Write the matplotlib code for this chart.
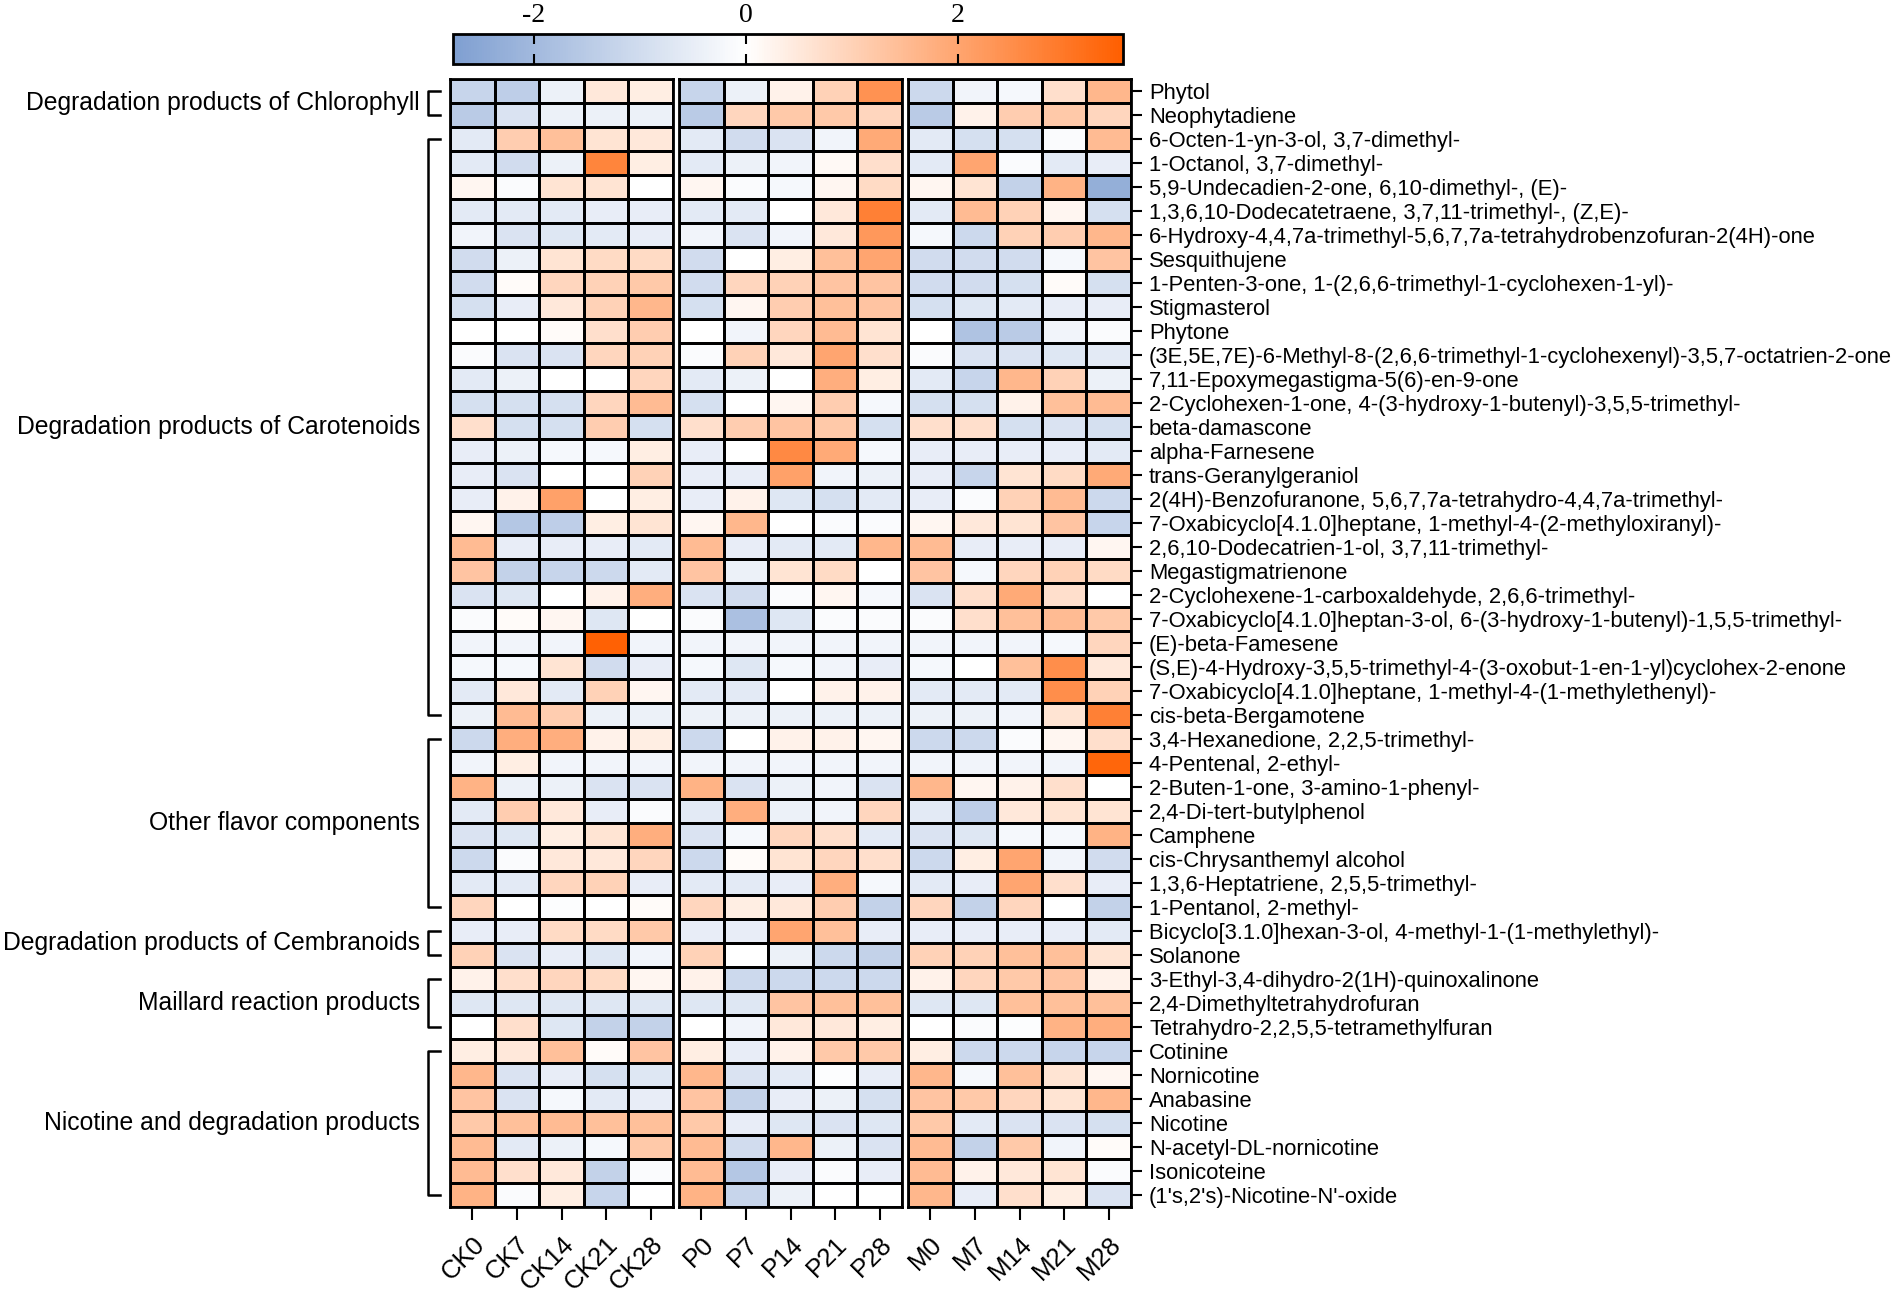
import numpy as np
import matplotlib
matplotlib.use('Agg')
import matplotlib.pyplot as plt
from matplotlib.colors import LinearSegmentedColormap, Normalize
from matplotlib.transforms import blended_transform_factory

plt.rcParams['font.family'] = ['Liberation Sans', 'DejaVu Sans']
plt.rcParams['axes.unicode_minus'] = False

compounds = [
    'Phytol', 'Neophytadiene', '6-Octen-1-yn-3-ol, 3,7-dimethyl-',
    '1-Octanol, 3,7-dimethyl-', '5,9-Undecadien-2-one, 6,10-dimethyl-, (E)-',
    '1,3,6,10-Dodecatetraene, 3,7,11-trimethyl-, (Z,E)-',
    '6-Hydroxy-4,4,7a-trimethyl-5,6,7,7a-tetrahydrobenzofuran-2(4H)-one',
    'Sesquithujene', '1-Penten-3-one, 1-(2,6,6-trimethyl-1-cyclohexen-1-yl)-',
    'Stigmasterol', 'Phytone',
    '(3E,5E,7E)-6-Methyl-8-(2,6,6-trimethyl-1-cyclohexenyl)-3,5,7-octatrien-2-one',
    '7,11-Epoxymegastigma-5(6)-en-9-one',
    '2-Cyclohexen-1-one, 4-(3-hydroxy-1-butenyl)-3,5,5-trimethyl-',
    'beta-damascone', 'alpha-Farnesene', 'trans-Geranylgeraniol',
    '2(4H)-Benzofuranone, 5,6,7,7a-tetrahydro-4,4,7a-trimethyl-',
    '7-Oxabicyclo[4.1.0]heptane, 1-methyl-4-(2-methyloxiranyl)-',
    '2,6,10-Dodecatrien-1-ol, 3,7,11-trimethyl-', 'Megastigmatrienone',
    '2-Cyclohexene-1-carboxaldehyde, 2,6,6-trimethyl-',
    '7-Oxabicyclo[4.1.0]heptan-3-ol, 6-(3-hydroxy-1-butenyl)-1,5,5-trimethyl-',
    '(E)-beta-Famesene',
    '(S,E)-4-Hydroxy-3,5,5-trimethyl-4-(3-oxobut-1-en-1-yl)cyclohex-2-enone',
    '7-Oxabicyclo[4.1.0]heptane, 1-methyl-4-(1-methylethenyl)-',
    'cis-beta-Bergamotene', '3,4-Hexanedione, 2,2,5-trimethyl-',
    '4-Pentenal, 2-ethyl-', '2-Buten-1-one, 3-amino-1-phenyl-',
    '2,4-Di-tert-butylphenol', 'Camphene', 'cis-Chrysanthemyl alcohol',
    '1,3,6-Heptatriene, 2,5,5-trimethyl-', '1-Pentanol, 2-methyl-',
    'Bicyclo[3.1.0]hexan-3-ol, 4-methyl-1-(1-methylethyl)-', 'Solanone',
    '3-Ethyl-3,4-dihydro-2(1H)-quinoxalinone', '2,4-Dimethyltetrahydrofuran',
    'Tetrahydro-2,2,5,5-tetramethylfuran', 'Cotinine', 'Nornicotine',
    'Anabasine', 'Nicotine', 'N-acetyl-DL-nornicotine', 'Isonicoteine',
    "(1's,2's)-Nicotine-N'-oxide",
]

ck_labels = ['CK0', 'CK7', 'CK14', 'CK21', 'CK28']
p_labels = ['P0', 'P7', 'P14', 'P21', 'P28']
m_labels = ['M0', 'M7', 'M14', 'M21', 'M28']

ck_vals = [
    [-1.2, -1.4, -0.4, 0.5, 0.4], [-1.5, -0.8, -0.4, -0.4, -0.4],
    [-0.6, 1.1, 1.4, 0.6, 0.5], [-0.6, -1.0, -0.4, 2.7, 0.4],
    [0.2, -0.1, 0.6, 0.6, 0.0], [-0.6, -0.6, -0.6, -0.5, -0.5],
    [-0.3, -0.8, -0.7, -0.6, -0.5], [-1.0, -0.4, 0.6, 0.8, 0.8],
    [-1.0, 0.1, 0.9, 1.0, 1.2], [-0.9, -0.5, 0.5, 1.0, 1.6],
    [0.0, 0.0, 0.1, 0.7, 1.1], [-0.1, -0.8, -0.8, 0.9, 1.0],
    [-0.6, -0.4, 0.0, 0.0, 0.9], [-0.9, -0.9, -0.9, 0.9, 1.5],
    [0.7, -0.9, -0.9, 1.1, -0.9], [-0.5, -0.4, -0.2, -0.2, 0.4],
    [-0.5, -0.8, 0.0, 0.0, 1.0], [-0.5, 0.3, 2.1, 0.0, 0.4],
    [0.2, -1.6, -1.4, 0.4, 0.6], [1.5, -0.5, -0.5, -0.5, -0.6],
    [1.3, -1.3, -1.2, -1.1, -0.6], [-0.8, -0.7, 0.0, 0.3, 1.8],
    [-0.1, 0.1, 0.2, -0.7, 0.0], [-0.3, -0.3, -0.3, 3.5, -0.3],
    [-0.2, -0.2, 0.6, -1.0, -0.5], [-0.6, 0.5, -0.6, 1.0, 0.2],
    [-0.4, 1.5, 1.1, -0.4, -0.4], [-1.1, 1.8, 1.8, 0.3, 0.4],
    [-0.3, 0.4, -0.3, -0.3, -0.3], [1.7, -0.4, -0.4, -0.8, -0.8],
    [-0.6, 1.1, 0.5, -0.5, -0.1], [-0.8, -0.7, 0.4, 0.6, 1.8],
    [-1.1, -0.1, 0.5, 0.5, 0.9], [-0.6, -0.6, 0.9, 1.0, -0.5],
    [0.9, 0.0, -0.05, 0.0, 0.1], [-0.5, -0.5, 0.8, 0.8, 1.2],
    [1.0, -0.8, -0.5, -0.7, -0.3], [0.3, 0.7, 0.9, 0.8, 0.2],
    [-0.7, -0.7, -0.7, -0.7, -0.7], [0.0, 0.7, -0.7, -1.3, -1.3],
    [0.4, 0.5, 1.4, 0.1, 1.3], [1.6, -0.8, -0.5, -0.9, -0.7],
    [1.3, -0.8, -0.2, -0.6, -0.5], [1.2, 1.4, 1.5, 1.4, 1.4],
    [1.5, -0.6, -0.4, -0.2, 1.2], [1.5, 0.7, 0.5, -1.3, -0.1],
    [1.7, -0.1, 0.4, -1.2, 0.0],
]

p_vals = [
    [-1.2, -0.4, 0.3, 1.0, 2.4], [-1.5, 0.9, 1.2, 1.2, 0.9],
    [-0.6, -1.0, -0.8, -0.3, 1.9], [-0.6, -0.4, -0.3, 0.15, 0.7],
    [0.2, -0.1, -0.2, 0.2, 0.8], [-0.6, -0.6, 0.0, 0.5, 2.8],
    [-0.3, -0.8, -0.3, 0.5, 2.3], [-1.0, 0.0, 0.4, 1.4, 2.0],
    [-1.0, 0.9, 1.0, 1.3, 1.3], [-0.9, 0.2, 1.1, 1.4, 1.3],
    [0.0, -0.3, 0.9, 1.5, 0.6], [-0.1, 1.0, 0.5, 2.0, 0.7],
    [-0.6, -0.4, 0.0, 1.8, 0.4], [-0.9, 0.0, 0.2, 1.1, -0.2],
    [0.7, 1.1, 1.3, 1.2, -0.9], [-0.5, 0.0, 2.6, 1.9, -0.2],
    [-0.5, -0.5, 2.1, -0.3, -0.4], [-0.5, 0.3, -0.7, -0.9, -0.6],
    [0.2, 1.6, 0.0, -0.1, -0.1], [1.5, -0.5, -0.6, -0.6, 1.6],
    [1.3, -0.4, 0.6, 0.8, 0.0], [-0.8, -1.0, -0.1, 0.2, -0.2],
    [-0.1, -1.8, -0.7, -0.1, -0.1], [-0.3, -0.3, -0.3, -0.3, -0.3],
    [-0.2, -0.7, -0.2, -0.3, -0.5], [-0.6, -0.6, 0.0, 0.3, 0.3],
    [-0.4, -0.4, -0.4, -0.4, -0.4], [-1.1, 0.0, 0.3, 0.3, 0.2],
    [-0.3, -0.3, -0.3, -0.3, -0.3], [1.7, -0.8, -0.4, -0.3, -0.8],
    [-0.6, 1.8, -0.4, -0.3, 0.9], [-0.8, -0.2, 0.9, 0.7, -0.6],
    [-1.1, 0.1, 0.6, 0.9, 0.7], [-0.6, -0.6, -0.5, 1.8, -0.2],
    [0.9, 0.4, 0.5, 1.1, -1.3], [-0.5, -0.5, 2.0, 1.4, -0.5],
    [1.0, 0.0, -0.4, -1.1, -1.3], [0.3, -1.1, -1.1, -1.1, -1.1],
    [-0.7, -0.7, 1.3, 1.4, 1.4], [0.0, -0.3, 0.5, 0.5, 0.4],
    [0.4, -0.5, 0.3, 1.2, 1.2], [1.6, -0.8, -0.6, -0.05, -0.5],
    [1.3, -1.3, -0.5, -0.4, -0.9], [1.2, -0.5, -0.7, -0.8, -0.7],
    [1.5, -1.0, 1.6, -0.4, -0.8], [1.5, -1.6, -0.5, -0.1, -0.5],
    [1.7, -1.2, -0.4, 0.0, 0.0],
]

m_vals = [
    [-1.1, -0.3, -0.2, 0.7, 1.6], [-1.5, 0.3, 1.1, 1.2, 0.9],
    [-0.6, -0.9, -0.9, -0.1, 1.5], [-0.6, 2.0, -0.1, -0.6, -0.5],
    [0.2, 0.6, -1.3, 1.7, -2.3], [-0.6, 1.5, 1.0, 0.2, -0.9],
    [-0.2, -1.1, 1.0, 1.1, 1.6], [-1.0, -1.0, -1.0, -0.2, 1.3],
    [-1.0, -1.0, -0.9, 0.1, -0.9], [-0.9, -0.7, -0.6, -0.5, -0.5],
    [0.0, -1.7, -1.5, -0.3, -0.1], [-0.1, -0.8, -0.8, -0.7, -0.6],
    [-0.6, -1.2, 1.6, 1.0, -0.4], [-0.9, -0.9, 0.3, 1.4, 1.5],
    [0.7, 0.7, -0.9, -0.8, -0.9], [-0.5, -0.5, -0.5, -0.5, -0.6],
    [-0.5, -1.2, 0.6, 0.8, 1.9], [-0.5, -0.1, 1.0, 1.5, -1.1],
    [0.2, 0.5, 0.6, 1.3, -1.2], [1.5, -0.5, -0.5, -0.5, 0.2],
    [1.3, -0.2, 0.9, 1.0, 0.8], [-0.8, 0.7, 1.9, 0.7, 0.0],
    [-0.1, 0.7, 1.4, 1.5, 1.2], [-0.3, -0.3, -0.3, -0.2, 0.9],
    [-0.2, 0.0, 1.4, 2.5, 0.5], [-0.6, -0.6, -0.6, 2.5, 1.0],
    [-0.4, -0.4, -0.3, 0.6, 2.8], [-1.1, -1.1, -0.1, 0.2, 0.7],
    [-0.3, -0.3, -0.3, -0.3, 3.4], [1.6, 0.2, 0.3, 0.7, 0.0],
    [-0.6, -1.4, 0.5, 0.6, 0.6], [-0.8, -0.7, -0.2, -0.2, 1.7],
    [-1.1, 0.4, 2.0, -0.3, -1.0], [-0.6, -0.5, 2.0, 0.7, -0.5],
    [0.9, -1.3, 0.9, 0.0, -1.3], [-0.5, -0.5, -0.5, -0.5, -0.6],
    [1.0, 1.0, 1.4, 1.4, 0.6], [0.3, 0.9, 1.2, 1.3, 0.3],
    [-0.7, -0.7, 1.4, 1.4, 1.4], [0.0, -0.1, -0.05, 1.7, 1.8],
    [0.4, -1.1, -1.1, -1.2, -1.2], [1.6, -0.2, 1.4, 0.6, 0.2],
    [1.3, 1.2, 0.9, 0.6, 1.6], [1.2, -0.6, -0.8, -0.8, -0.9],
    [1.5, -1.3, 1.2, -0.3, 0.1], [1.5, 0.3, 0.5, 0.6, -0.1],
    [1.6, -0.5, 0.7, 0.4, -0.8],
]

# (label, first row, last row)
groups = [
    ('Degradation products of Chlorophyll', 0, 1),
    ('Degradation products of Carotenoids', 2, 26),
    ('Other flavor components', 27, 34),
    ('Degradation products of Cembranoids', 35, 36),
    ('Maillard reaction products', 37, 39),
    ('Nicotine and degradation products', 40, 46),
]

vmin, vmax = -2.76, 3.56
mid = -vmin / (vmax - vmin)
cmap = LinearSegmentedColormap.from_list(
    'bo', [(0, '#7f9fd1'), (mid, '#ffffff'), (1, '#ff5f00')])
norm = Normalize(vmin=vmin, vmax=vmax)

W, H = 1902, 1298
fig = plt.figure(figsize=(W / 100, H / 100), dpi=100)

top, bot = 79, 1207
blocks = [(450, 673, ck_vals, ck_labels),
          (679, 902, p_vals, p_labels),
          (908, 1131, m_vals, m_labels)]

axes = []
n_rows = len(compounds)
for i, (x0, x1, vals, labs) in enumerate(blocks):
    ax = fig.add_axes([x0 / W, 1 - bot / H, (x1 - x0) / W, (bot - top) / H])
    mesh = ax.pcolormesh(np.arange(6), np.arange(n_rows + 1), np.array(vals),
                         cmap=cmap, norm=norm, edgecolors='black', linewidth=1.8)
    ax.set_xlim(0, 5)
    ax.set_ylim(n_rows, 0)
    ax.set_xticks(np.arange(5) + 0.5)
    ax.set_xticklabels(labs, rotation=45, ha='right', va='top',
                       rotation_mode='anchor', fontsize=18.5)
    ax.tick_params(axis='x', length=9, width=1.5, pad=9)
    ax.set_yticks([])
    for s in ax.spines.values():
        s.set_linewidth(2)
    axes.append(ax)

ax3 = axes[-1]
ax3.yaxis.tick_right()
ax3.set_yticks(np.arange(n_rows) + 0.5)
ax3.set_yticklabels(compounds, fontsize=15.8)
ax3.tick_params(axis='y', length=8, width=1.5, pad=5)

ax1 = axes[0]
trans = blended_transform_factory(ax1.transAxes, ax1.transData)
bw = 673 - 450
xv = (428 - 450) / bw
xt = (440 - 450) / bw
xl = (420 - 450) / bw
for name, r0, r1 in groups:
    ax1.plot([xt, xv, xv, xt], [r0 + 0.5, r0 + 0.5, r1 + 0.5, r1 + 0.5],
             color='black', lw=1.8, transform=trans, clip_on=False)
    ax1.text(xl, (r0 + r1) / 2 + 0.5, name, transform=trans,
             ha='right', va='center', fontsize=17.8)

cax = fig.add_axes([453 / W, 1 - 64 / H, (1123 - 453) / W, 30 / H])
cb = fig.colorbar(mesh, cax=cax, orientation='horizontal', ticks=[-2, 0, 2])
cb.outline.set_linewidth(2)
cax.tick_params(axis='x', direction='in', top=True, bottom=True,
                labeltop=True, labelbottom=False, length=7, width=1.5, pad=4)
for t in cax.get_xticklabels():
    t.set_fontfamily('Liberation Serif')
    t.set_fontsize(20)

fig.savefig('out.png', dpi=100)
